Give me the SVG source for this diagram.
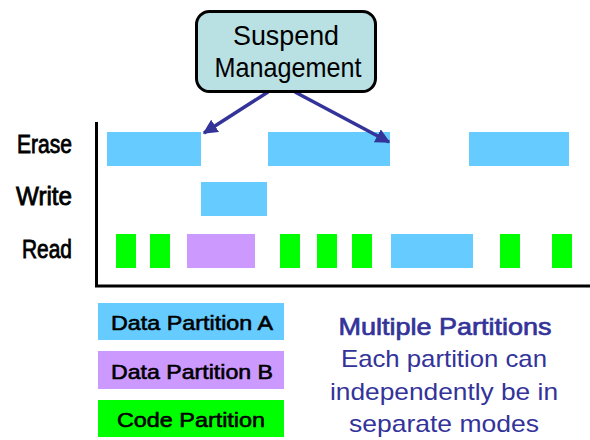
<svg xmlns="http://www.w3.org/2000/svg" width="590" height="440" viewBox="0 0 590 440">
<style>
.lbl{font-family:"Liberation Sans",Arial,sans-serif;font-size:25px;fill:#000;stroke:#000;stroke-width:0.8;text-anchor:end}
.leg{font-family:"Liberation Sans",Arial,sans-serif;font-size:21px;fill:#000;stroke:#000;stroke-width:0.6;text-anchor:middle}
.note{font-family:"Liberation Sans",Arial,sans-serif;font-size:24px;fill:#333399;text-anchor:middle}
.a{fill:#66ccff}.b{fill:#cc99ff}.c{fill:#00ff00}
.conn{stroke:#333399;stroke-width:3.5;fill:none}
</style>
<defs>
<marker id="ah" viewBox="0 0 10 10" refX="9" refY="5" markerWidth="4.2" markerHeight="4.2" orient="auto" markerUnits="strokeWidth">
<path d="M0,0 L10,5 L0,10 Z" fill="#333399"/>
</marker>
</defs>
<rect width="590" height="440" fill="#fff"/>
<g id="axes">
<path d="M96.5,122 V286 H590" stroke="#000" stroke-width="3" fill="none"/>
</g>
<g id="row-labels">
<text class="lbl" x="72" y="153" textLength="55" lengthAdjust="spacingAndGlyphs">Erase</text>
<text class="lbl" x="72" y="205" textLength="56" lengthAdjust="spacingAndGlyphs">Write</text>
<text class="lbl" x="72" y="258" textLength="50" lengthAdjust="spacingAndGlyphs">Read</text>
</g>
<g id="erase-bars">
<rect class="a" x="107" y="132" width="94" height="34"/>
<rect class="a" x="268" y="132" width="122" height="34"/>
<rect class="a" x="469" y="132" width="100" height="34"/>
</g>
<g id="write-bars">
<rect class="a" x="201" y="182" width="66" height="34"/>
</g>
<g id="read-bars">
<rect class="c" x="116" y="234" width="20" height="34"/>
<rect class="c" x="150" y="234" width="20" height="34"/>
<rect class="b" x="187" y="234" width="68" height="34"/>
<rect class="c" x="280" y="234" width="20" height="34"/>
<rect class="c" x="317" y="234" width="20" height="34"/>
<rect class="c" x="352" y="234" width="20" height="34"/>
<rect class="a" x="391" y="234" width="82" height="34"/>
<rect class="c" x="500" y="234" width="20" height="34"/>
<rect class="c" x="552" y="234" width="20" height="34"/>
</g>
<g id="connectors">
<line class="conn" x1="268" y1="92" x2="204" y2="133" marker-end="url(#ah)"/>
<line class="conn" x1="295" y1="92" x2="389" y2="142" marker-end="url(#ah)"/>
</g>
<g id="suspend-management">
<rect x="196.5" y="11.5" width="179" height="80" rx="13" fill="#b9e0e3" stroke="#000" stroke-width="3"/>
<text x="286" y="45" font-family="'Liberation Sans',Arial,sans-serif" font-size="28" text-anchor="middle" textLength="106" lengthAdjust="spacingAndGlyphs">Suspend</text>
<text x="288" y="77" font-family="'Liberation Sans',Arial,sans-serif" font-size="28" text-anchor="middle" textLength="147" lengthAdjust="spacingAndGlyphs">Management</text>
</g>
<g id="legend-a">
<rect class="a" x="98" y="303" width="186" height="37"/>
<text class="leg" x="192" y="330" textLength="162" lengthAdjust="spacingAndGlyphs">Data Partition A</text>
</g>
<g id="legend-b">
<rect class="b" x="98" y="351" width="186" height="38"/>
<text class="leg" x="192" y="379" textLength="162" lengthAdjust="spacingAndGlyphs">Data Partition B</text>
</g>
<g id="legend-code">
<rect class="c" x="98" y="400" width="186" height="37"/>
<text class="leg" x="191" y="427" textLength="148" lengthAdjust="spacingAndGlyphs">Code Partition</text>
</g>
<g id="note">
<text class="note" x="445" y="335" font-size="25" stroke="#333399" stroke-width="0.7" textLength="213" lengthAdjust="spacingAndGlyphs">Multiple Partitions</text>
<text class="note" x="444" y="367" textLength="206" lengthAdjust="spacingAndGlyphs">Each partition can</text>
<text class="note" x="444" y="400" textLength="228" lengthAdjust="spacingAndGlyphs">independently be in</text>
<text class="note" x="444" y="432" textLength="190" lengthAdjust="spacingAndGlyphs">separate modes</text>
</g>
</svg>
